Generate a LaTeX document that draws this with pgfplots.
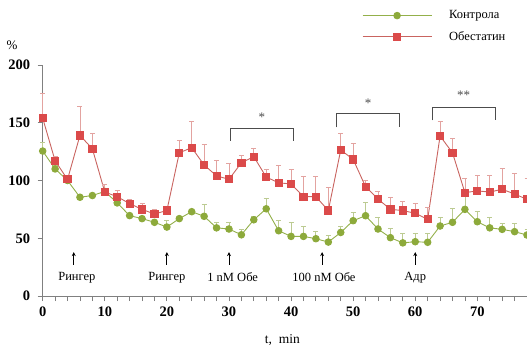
\documentclass[border=0pt]{standalone}
\usepackage{fontspec}
\setmainfont{Liberation Serif}
\usepackage{pgfplots}
\pgfplotsset{compat=1.18}
\usepackage{pgfplotstable}
\usetikzlibrary{arrows.meta}
\definecolor{grn}{HTML}{8DAA3B}
\definecolor{grnline}{HTML}{93B04A}
\definecolor{grnerr}{HTML}{BCCB92}
\definecolor{rd}{HTML}{DB4A4A}
\definecolor{rdline}{HTML}{C96460}
\definecolor{rderr}{HTML}{E3A3A0}
\definecolor{axgray}{HTML}{808080}

\pgfplotstableread{
t y e
0 125.5 7.5
2 110 3
4 100 2
6 85.5 2.5
8 87 1
10 90.5 1
12 80.6 2.5
14 69.6 2.5
16 67 2
18 63.8 2.2
20 59.7 6.3
22 67 2
24 73 2
26 69 10.6
28 59 5
30 58 6
32 53 5
34 66 3
36 75.5 9.1
38 56.5 9.5
40 51.6 12.4
42 51.6 8.4
44 49.6 6.1
46 46.7 6.1
48 55 5.6
50 65.2 7.3
52 69.5 11.3
54 58 9.8
56 50.5 8.1
58 46 8.8
60 47 7.8
62 46.5 7.8
64 60.6 7.2
66 63.8 12.2
68 75 11.6
70 64.3 8.7
72 59 8.8
74 57.7 5.3
76 55.7 7.3
78 52.8 5.2
}\control

\pgfplotstableread{
t y e
0 154 21.5
2 117 4
4 101 3
6 139 25
8 127.5 13.5
10 90 7
12 86 6
14 80 4
16 75 5
18 71 4
20 74 3
22 124 10.5
24 128.4 22.6
26 113.4 17.6
28 104 14
30 101 14
32 115.4 6.6
34 120.6 7.4
36 103 7
38 98 15
40 97 13
42 86 18
44 86 18
46 74 20
48 126.4 14.6
50 118.3 14.4
52 94.6 5.8
54 84 7
56 75 10.5
58 74 8.5
60 71.6 8.4
62 66.4 10.4
64 138.5 12.5
66 124 12.5
68 89.5 12.5
70 91 14
72 90 14.8
74 92.4 18.6
76 88.3 17.7
78 83.7 18.3
}\obestatin

\begin{document}
\begin{tikzpicture}
\begin{axis}[
  scale only axis, width=484.3pt, height=231pt,
  xmin=0, xmax=78, ymin=0, ymax=200,
  axis x line=bottom, axis y line=left,
  axis line style={-, draw=axgray, line width=0.8pt},
  xtick={0,10,...,70}, minor xtick={2,4,...,78}, ytick={0,50,...,200},
  tick align=outside, major tick length=5pt, minor tick length=5pt,
  tick style={draw=axgray, line width=0.8pt},
  tick label style={font=\fontsize{14.5}{14.5}\selectfont\bfseries},
  yticklabel style={xshift=-4pt},
  xticklabel style={yshift=-2pt},
  /pgf/number format/assume math mode=true,
  xlabel={t,\ \ min},
  xlabel style={font=\fontsize{13.5}{13.5}\selectfont, at={(axis description cs:0.495,0)}, anchor=north, yshift=-35pt},
  legend style={at={(0.653,1.253)}, anchor=north west, draw=none, fill=none,
    font=\fontsize{12.5}{12.5}\selectfont, row sep=7pt,
    /tikz/every odd column/.append style={column sep=15pt}},
  legend cell align=left,
  legend image code/.code={
    \draw[mark repeat=2,mark phase=2,#1] plot coordinates {(0pt,0pt) (34.5pt,0pt) (69pt,0pt)};
  },
  clip=false,
]
\addplot[color=grnline, line width=0.9pt, mark=*, mark size=3.3pt,
  mark options={fill=grn, draw=grn, solid},
  error bars/.cd, y dir=plus, y explicit,
  error bar style={color=grnerr, line width=0.8pt},
  error mark options={rotate=90, mark size=2.5pt, color=grnerr}]
  table[x=t, y=y, y error=e] {\control};
\addlegendentry{Контрола}
\addplot[color=rdline, line width=0.9pt, mark=square*, mark size=3.6pt,
  mark options={fill=rd, draw=rd, solid},
  error bars/.cd, y dir=plus, y explicit,
  error bar style={color=rderr, line width=0.8pt},
  error mark options={rotate=90, mark size=2.5pt, color=rderr}]
  table[x=t, y=y, y error=e] {\obestatin};
\addlegendentry{Обестатин}

% stimulus arrows and labels
\draw[-{Stealth[length=4pt,width=4pt]}, line width=0.8pt] (axis cs:5,27) -- (axis cs:5,38);
\draw[-{Stealth[length=4pt,width=4pt]}, line width=0.8pt] (axis cs:20,27) -- (axis cs:20,38);
\draw[-{Stealth[length=4pt,width=4pt]}, line width=0.8pt] (axis cs:30,27) -- (axis cs:30,38);
\draw[-{Stealth[length=4pt,width=4pt]}, line width=0.8pt] (axis cs:45,27) -- (axis cs:45,38);
\draw[-{Stealth[length=4pt,width=4pt]}, line width=0.8pt] (axis cs:60,27) -- (axis cs:60,38);
\node[font=\fontsize{12.5}{12.5}\selectfont] at (axis cs:5.5,16) {Рингер};
\node[font=\fontsize{12.5}{12.5}\selectfont] at (axis cs:20,16) {Рингер};
\node[font=\fontsize{12.5}{12.5}\selectfont] at (axis cs:30.6,16) {1 nM Обе};
\node[font=\fontsize{12.5}{12.5}\selectfont] at (axis cs:45.3,16) {100 nM Обе};
\node[font=\fontsize{12.5}{12.5}\selectfont] at (axis cs:60,16) {Адр};

% significance brackets
\draw[line width=1pt, draw=black!70] (axis cs:30.2,134.5) -- (axis cs:30.2,145) -- (axis cs:40.4,145) -- (axis cs:40.4,134.5);
\node[font=\fontsize{13}{13}\selectfont, text=black!70] at (axis cs:35.3,155) {*};
\draw[line width=1pt, draw=black!70] (axis cs:47.3,146) -- (axis cs:47.3,157.6) -- (axis cs:57.4,157.6) -- (axis cs:57.4,146);
\node[font=\fontsize{13}{13}\selectfont, text=black!70] at (axis cs:52.4,167) {*};
\draw[line width=1pt, draw=black!70] (axis cs:62.7,152) -- (axis cs:62.7,163.5) -- (axis cs:72.9,163.5) -- (axis cs:72.9,152);
\node[font=\fontsize{13}{13}\selectfont, text=black!70] at (axis cs:67.8,174) {**};

\node[font=\fontsize{13}{13}\selectfont] at ([xshift=-30.7pt,yshift=20pt]rel axis cs:0,1) {\%};
\end{axis}
\pgfresetboundingbox
\path[use as bounding box] (-42.7pt,-49pt) rectangle (484.3pt,296pt);
\end{tikzpicture}
\end{document}
